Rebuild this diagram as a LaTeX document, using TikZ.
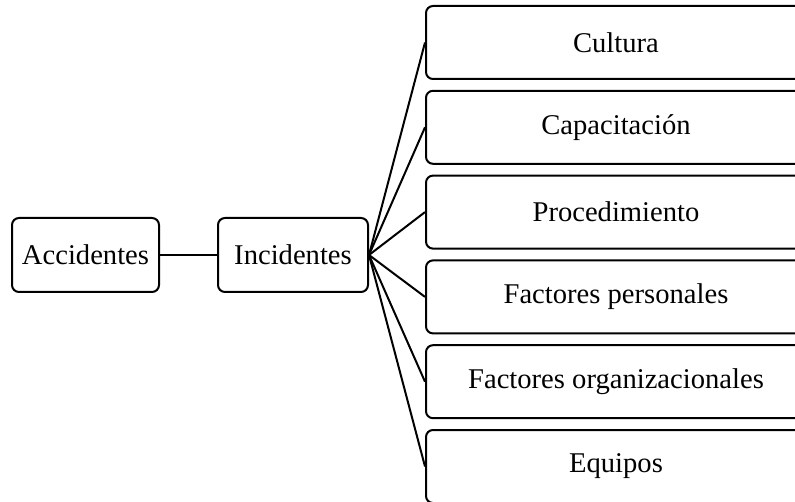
\documentclass[tikz,border=0pt]{standalone}
\usepackage{fontspec}
\setmainfont{Liberation Serif}
\begin{document}
\begin{tikzpicture}[x=1pt,y=-1pt,
  box/.style={draw=black,line width=2pt,rounded corners=7pt,fill=white,
    inner sep=0pt,font=\fontsize{28.6}{34}\selectfont},
  link/.style={line width=2pt}]
\useasboundingbox (0,0) rectangle (795,502);
\clip (0,0) rectangle (795,502);
% left chain
\node[box,minimum width=147pt,minimum height=74pt] (acc) at (85.5,255) {Accidentes};
\node[box,minimum width=150pt,minimum height=74pt] (inc) at (293,255) {Incidentes};
% factor boxes (they run past the right and bottom edges)
\foreach \n/\t [count=\i from 0] in {cul/Cultura,cap/Capacitación,pro/Procedimiento,
    per/Factores personales,org/Factores organizacionales,equ/Equipos}{
  \node[box,minimum width=380pt,minimum height=73pt] (\n) at (616,42.5+84.8*\i) {\t};
}
\draw[link] (acc.east) -- (inc.west);
\foreach \n in {cul,cap,pro,per,org,equ}{
  \draw[link] (inc.east) -- (\n.west);
}
\end{tikzpicture}
\end{document}
